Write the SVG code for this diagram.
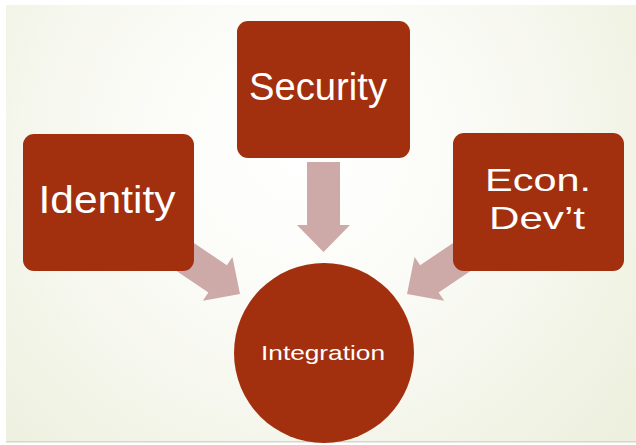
<svg xmlns="http://www.w3.org/2000/svg" width="636" height="445" viewBox="0 0 636 445">
  <defs>
    <radialGradient id="bg" cx="300" cy="150" r="420" gradientUnits="userSpaceOnUse">
      <stop offset="0" stop-color="#ffffff"/>
      <stop offset="0.45" stop-color="#fafaf5"/>
      <stop offset="1" stop-color="#edf0de"/>
    </radialGradient>
    <path id="arrowShape" d="M -27 -16.5 L -90 -16.5 L -90 16.5 L -27 16.5 L -27 26.5 L 0 0 L -27 -26.5 Z"/>
  </defs>
  <style>
    .box { fill: #a2300f; }
    .arrow { fill: #cda9a8; }
    .big { font-family: "Liberation Sans", Arial, sans-serif; font-size: 38px; fill: #ffffff; text-anchor: middle; }
    .mid { font-family: "Liberation Sans", Arial, sans-serif; font-size: 32px; fill: #ffffff; text-anchor: middle; }
    .small { font-family: "Liberation Sans", Arial, sans-serif; font-size: 21px; fill: #ffffff; text-anchor: middle; }
  </style>
  <rect x="0" y="0" width="636" height="445" fill="#ffffff"/>
  <rect x="6" y="5" width="630" height="437" fill="url(#bg)"/>
  <rect x="6" y="441" width="630" height="1.5" fill="#d6d6d0"/>

  <g id="connectors">
    <use href="#arrowShape" class="arrow" transform="translate(240,294) rotate(34)"/>
    <use href="#arrowShape" class="arrow" transform="translate(407,294) rotate(146)"/>
    <use href="#arrowShape" class="arrow" transform="translate(323.5,252) rotate(90)"/>
  </g>

  <g id="security">
    <rect class="box" x="237" y="21" width="173" height="137" rx="11"/>
    <text class="big" x="318" y="100" textLength="138" lengthAdjust="spacingAndGlyphs">Security</text>
  </g>
  <g id="identity">
    <rect class="box" x="23" y="134" width="171" height="137" rx="11"/>
    <text class="big" x="107" y="213" textLength="137" lengthAdjust="spacingAndGlyphs">Identity</text>
  </g>
  <g id="econ">
    <rect class="box" x="453" y="133" width="171" height="138" rx="11"/>
    <text class="mid" x="538" y="191" textLength="106" lengthAdjust="spacingAndGlyphs">Econ.</text>
    <text class="mid" x="537" y="229" textLength="96" lengthAdjust="spacingAndGlyphs">Dev’t</text>
  </g>
  <g id="integration">
    <ellipse class="box" cx="324" cy="353" rx="90" ry="90"/>
    <text class="small" x="323" y="360" textLength="124" lengthAdjust="spacingAndGlyphs">Integration</text>
  </g>
</svg>
